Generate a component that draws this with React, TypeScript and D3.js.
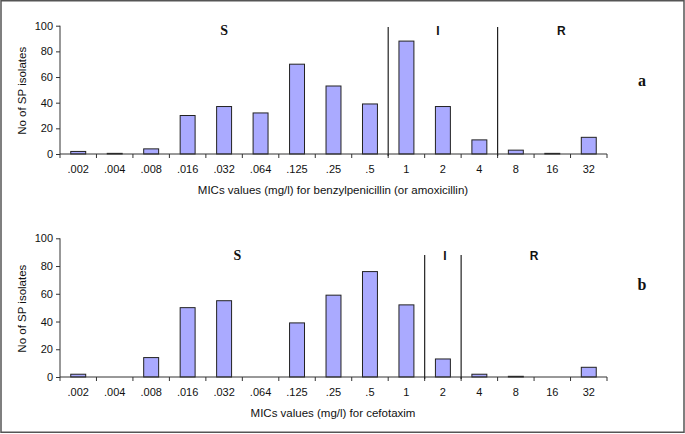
import { useRef, useEffect } from 'react';
import * as d3 from 'd3';

const mics = ['.002', '.004', '.008', '.016', '.032', '.064', '.125', '.25', '.5', '1', '2', '4', '8', '16', '32'];
const penicillin = [2, 0.5, 4, 30, 37, 32, 70, 53, 39, 88, 37, 11, 3, 0.5, 13];
const cefotaxim = [2, 0, 14, 50, 55, 0, 39, 59, 76, 52, 13, 2, 0.5, 0, 7];
const yTicks = [0, 20, 40, 60, 80, 100];
// index of the first category in each zone (I, R)
const penicillinBreaks = [9, 12];
const cefotaximBreaks = [10, 11];
const zones = ['S', 'I', 'R'];

const panels = [
  { values: penicillin, breaks: penicillinBreaks, title: 'MICs values (mg/l) for benzylpenicillin (or amoxicillin)',
    letter: 'a', top: 25.7, bottom: 154, lineTop: 99, labelY: 97, letterY: 57, nudge: [0, -5, 9] },
  { values: cefotaxim, breaks: cefotaximBreaks, title: 'MICs values (mg/l) for cefotaxim',
    letter: 'b', top: 238.3, bottom: 377, lineTop: 88, labelY: 88, letterY: 66, nudge: [-5, 2, 0] },
];

export default function App() {
  const svgRef = useRef<SVGSVGElement>(null);

  useEffect(() => {
    const svg = d3.select(svgRef.current);
    svg.selectAll('*').remove();
    const sans = 'Liberation Sans, Arial, sans-serif';
    const serif = 'Liberation Serif, Times New Roman, serif';

    svg.append('rect').attr('x', 1).attr('y', 0.75).attr('width', 683).attr('height', 431.5)
      .attr('fill', '#fff').attr('stroke', '#555').attr('stroke-width', 1.5);

    const x = d3.scaleBand().domain(mics).range([60, 607]).paddingInner(0.59).paddingOuter(0.295);

    panels.forEach(p => {
      const y = d3.scaleLinear().domain([0, 100]).range([p.bottom, p.top]);
      const g = svg.append('g');

      // bars
      g.selectAll('rect.bar').data(p.values).join('rect').attr('class', 'bar')
        .attr('x', (_, i) => x(mics[i])!)
        .attr('y', d => y(d))
        .attr('width', x.bandwidth())
        .attr('height', d => p.bottom - y(d))
        .attr('fill', d => d > 0 ? '#aaaaff' : 'none')
        .attr('stroke', d => d > 0 ? '#222' : 'none').attr('stroke-width', 1);

      // y axis
      g.append('g').attr('transform', 'translate(60,0)')
        .call(d3.axisLeft(y).tickValues(yTicks).tickSize(4).tickPadding(3))
        .call(a => a.select('.domain').attr('stroke', '#333').attr('d', `M0,${p.top}V${p.bottom}`))
        .call(a => a.selectAll('.tick line').attr('stroke', '#333'))
        .call(a => a.selectAll('text').attr('font-family', sans).attr('font-size', 11).attr('fill', '#111'));

      // x axis: ticks at category boundaries
      const step = x.step();
      const bounds = d3.range(mics.length + 1).map(i => 60 + i * step);
      g.append('line').attr('x1', 60).attr('x2', 607).attr('y1', p.bottom).attr('y2', p.bottom)
        .attr('stroke', '#333');
      g.selectAll('line.xt').data(bounds).join('line').attr('class', 'xt')
        .attr('x1', d => d).attr('x2', d => d).attr('y1', p.bottom).attr('y2', p.bottom + 4)
        .attr('stroke', '#333');
      g.selectAll('text.xl').data(mics).join('text').attr('class', 'xl')
        .attr('x', d => x(d)! + x.bandwidth() / 2).attr('y', p.bottom + 19)
        .attr('text-anchor', 'middle').attr('font-family', sans).attr('font-size', 11).attr('fill', '#111')
        .text(d => d);

      // titles
      g.append('text').attr('x', 333).attr('y', p.bottom + 40).attr('text-anchor', 'middle')
        .attr('font-family', sans).attr('font-size', 11.5).attr('fill', '#111').text(p.title);
      g.append('text').attr('transform', `translate(26,${(p.top + p.bottom) / 2 + 1}) rotate(-90)`)
        .attr('text-anchor', 'middle').attr('font-family', sans).attr('font-size', 11.5).attr('fill', '#111')
        .text('No of SP isolates');

      // breakpoints
      const bx = p.breaks.map(b => 60 + b * step);
      g.selectAll('line.bp').data(bx).join('line').attr('class', 'bp')
        .attr('x1', d => d).attr('x2', d => d).attr('y1', y(p.lineTop)).attr('y2', p.bottom + 2)
        .attr('stroke', '#222').attr('stroke-width', 1.2);

      const edges = [60, ...bx, 607];
      zones.forEach((z, i) => {
        g.append('text').attr('x', (edges[i] + edges[i + 1]) / 2 + p.nudge[i]).attr('y', y(p.labelY) + 5)
          .attr('text-anchor', 'middle')
          .attr('font-family', z === 'S' ? serif : sans).attr('font-weight', 'bold')
          .attr('font-size', z === 'S' ? 14 : 12).attr('fill', '#111').text(z);
      });

      g.append('text').attr('x', 642).attr('y', y(p.letterY) + 5)
        .attr('text-anchor', 'middle').attr('font-family', serif).attr('font-weight', 'bold')
        .attr('font-size', 16).attr('fill', '#111').text(p.letter);
    });
  }, []);

  return (
    <svg ref={svgRef} width={685} height={434} style={{ position: 'absolute', left: 0, top: 0 }} />
  );
}
